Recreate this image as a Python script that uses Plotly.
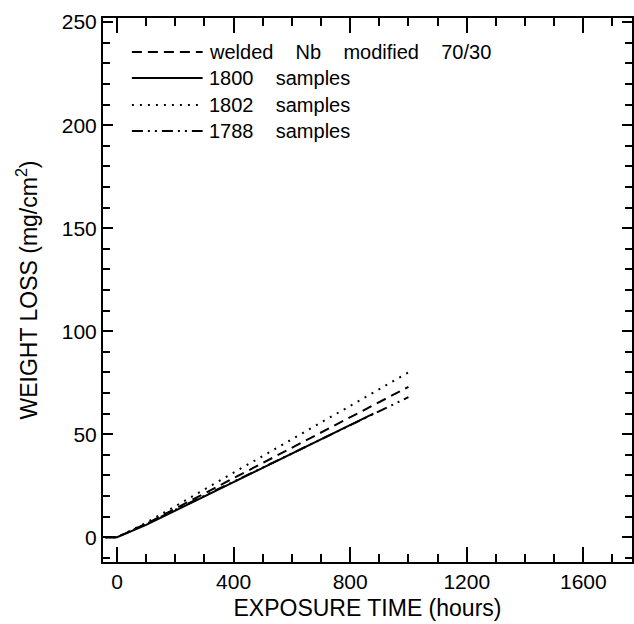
import plotly.graph_objects as go

# ---- data ----
series_names = ["welded Nb modified 70/30", "1800 samples", "1802 samples", "1788 samples"]
x_dashed = [-40, 0, 100, 1000]
y_dashed = [0, 0, 6.5, 73]
x_solid = [-40, 0, 100, 880]
y_solid = [0, 0, 6, 60]
x_dotted = [-40, 0, 100, 1000]
y_dotted = [0, 0, 7, 80]
x_dashdot = [-40, 0, 100, 1000]
y_dashdot = [0, 0, 6.5, 68]

x_ticks = [0, 400, 800, 1200, 1600]
y_ticks = [0, 50, 100, 150, 200, 250]

# ---- layout geometry (px) ----
W, H = 634, 624
ML, MR, MT, MB = 103, 0, 18, 62
PW, PH = W - ML - MR, H - MT - MB

FONT = "Liberation Sans, Arial, sans-serif"
dashes = ["10px,6px", "solid", "2px,6px", "11px,5px,2px,5px,2px,5px"]
xs = [x_dashed, x_solid, x_dotted, x_dashdot]
ys = [y_dashed, y_solid, y_dotted, y_dashdot]

fig = go.Figure()
for name, x, y, d in zip(series_names, xs, ys, dashes):
    fig.add_trace(go.Scatter(x=x, y=y, mode="lines", name=name,
                             line=dict(color="black", width=2, dash=d),
                             showlegend=False))

def px2paper(px, py):
    return (px - ML) / PW, (H - MB - py) / PH

# manual legend (long line samples like the reference)
legend_rows = [52, 78, 105, 131]
gap = "&nbsp;&nbsp;&nbsp; "
labels = ["welded" + gap + "Nb" + gap + "modified" + gap + "70/30",
          "1800" + gap + "samples", "1802" + gap + "samples", "1788" + gap + "samples"]
for lab, ry, d in zip(labels, legend_rows, dashes):
    x0, yy = px2paper(132, ry)
    x1, _ = px2paper(203, ry)
    fig.add_shape(type="line", xref="paper", yref="paper", x0=x0, x1=x1, y0=yy, y1=yy,
                  line=dict(color="black", width=2, dash=d))
    tx, _ = px2paper(207, ry)
    fig.add_annotation(xref="paper", yref="paper", x=tx, y=yy, text=lab, showarrow=False,
                       xanchor="left", yanchor="middle",
                       font=dict(family=FONT, size=20, color="black"))

axis_common = dict(showline=True, linecolor="black", linewidth=2, mirror="ticks",
                   ticks="inside", tickcolor="black", tickwidth=2, showgrid=False,
                   zeroline=False, tickfont=dict(family=FONT, size=21, color="black"))

fig.update_xaxes(range=[-48, 1767], tickvals=x_ticks, ticklen=15,
                 minor=dict(dtick=100, ticks="inside", ticklen=8, tickcolor="black",
                            tickwidth=1.5, showgrid=False),
                 title=dict(text="EXPOSURE TIME (hours)", standoff=8,
                            font=dict(family=FONT, size=23, color="black")),
                 **axis_common)
fig.update_yaxes(range=[-12, 252], tickvals=y_ticks, ticklen=10,
                 minor=dict(dtick=10, ticks="inside", ticklen=7, tickcolor="black",
                            tickwidth=1.5, showgrid=False),
                 title=dict(text="WEIGHT LOSS (mg/cm<sup>2</sup>)", standoff=18,
                            font=dict(family=FONT, size=23, color="black")),
                 **axis_common)

fig.update_layout(width=W, height=H, margin=dict(l=ML, r=MR, t=MT, b=MB),
                  plot_bgcolor="white", paper_bgcolor="white", showlegend=False)

fig.write_html("out.html")
